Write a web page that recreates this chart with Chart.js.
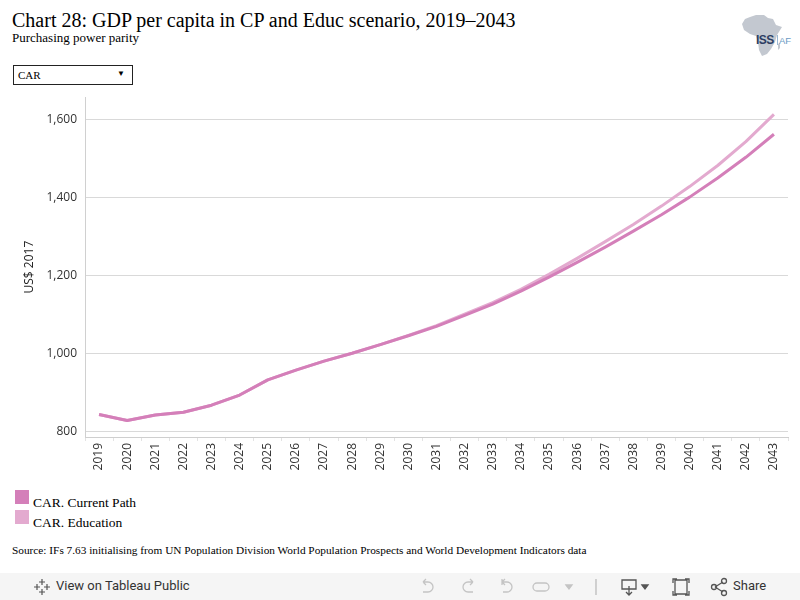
<!DOCTYPE html>
<html>
<head>
<meta charset="utf-8">
<script src="https://cdn.jsdelivr.net/npm/chart.js@4.4.0/dist/chart.umd.min.js"></script>
<style>
  body { margin: 0; width: 800px; height: 600px; background: #fff; position: relative; overflow: hidden; }
  .serif { font-family: "Liberation Serif", "Times New Roman", serif; color: #000; }
  #title { position: absolute; left: 12px; top: 9px; font-size: 20px; line-height: 22px; }
  #subtitle { position: absolute; left: 12px; top: 30px; font-size: 13px; line-height: 15px; }
  #dropdown { position: absolute; left: 13px; top: 65px; width: 118px; height: 18px; border: 1px solid #222; font-size: 11px; }
  #dropdown span { position: absolute; left: 4px; top: 3px; }
  #dropdown i { position: absolute; right: 7px; top: 3px; font-style: normal; font-size: 8px; }
  #wrap { position: absolute; left: 0; top: 82px; width: 800px; height: 395px; }
  #legend { position: absolute; left: 15px; top: 490px; }
  .lg { position: relative; height: 20px; font-size: 13.5px; }
  .lg b { position: absolute; left: 0; top: 0; width: 14px; height: 14px; }
  .lg span { position: absolute; left: 18px; top: 5px; white-space: nowrap; }
  #source { position: absolute; left: 12px; top: 544px; font-size: 11.3px; white-space: nowrap; }
  #bar { position: absolute; left: 0; top: 573px; width: 800px; height: 27px; background: #f5f5f5; font-family: Roboto, "Noto Sans", sans-serif; color: #333; font-size: 13px; }
  #bar .t { position: absolute; top: 5px; }
  #logo { position: absolute; left: 742px; top: 13px; }
</style>
</head>
<body>
<div id="title" class="serif">Chart 28: GDP per capita in CP and Educ scenario, 2019–2043</div>
<div id="subtitle" class="serif">Purchasing power parity</div>
<div id="dropdown" class="serif"><span>CAR</span><i>▼</i></div>

<svg id="logo" width="58" height="46" viewBox="0 0 58 46">
  <path d="M8 4 L14 2 L22 2 L26 5 L31 6 L34 12 L40 14 L35 22 L33 29 L29 36 L25 41 L20 43 L17 37 L16 29 L14 23 L8 21 L2 17 L0 11 L3 6 Z" fill="#c3c8d0"/>
  <path d="M36 31 L38 30 L38 35 L36 37 Z" fill="#c3c8d0"/>
  <text x="14" y="31" font-family="Liberation Sans, sans-serif" font-size="12" font-weight="bold" fill="#2d3e63" letter-spacing="-0.5">ISS</text>
  <line x1="35.5" y1="22" x2="35.5" y2="32" stroke="#7fa6c9" stroke-width="0.8"/>
  <text x="37" y="31" font-family="Liberation Sans, sans-serif" font-size="9.5" fill="#6b9ac4">AF</text>
</svg>

<div id="wrap"><canvas id="chart"></canvas></div>

<div id="legend" class="serif"></div>

<div id="source" class="serif">Source: IFs 7.63 initialising from UN Population Division World Population Prospects and World Development Indicators data</div>

<div id="bar">
  <svg style="position:absolute;left:33px;top:5px" width="18" height="18" viewBox="0 0 18 18" stroke="#555" stroke-width="1.2" fill="none">
    <path d="M9 1v6M6 4h6M9 11v6M6 14h6M1 9h6M4 6v6M11 9h6M14 6v6"/>
  </svg>
  <span class="t" style="left:56px">View on Tableau Public</span>
  <svg style="position:absolute;left:415px;top:4px" width="360" height="20" viewBox="0 0 360 20" stroke="#c4c4c4" stroke-width="1.3" fill="none">
    <path d="M8 5 h5 a5 5 0 0 1 0 10 h-5 M8 5 l3 -3 M8 5 l3 3"/>
    <path d="M58 5 h-5 a5 5 0 0 0 0 10 h5 M58 5 l-3 -3 M58 5 l-3 3"/>
    <path d="M87 2 v6 M87 5 h5 a5 5 0 0 1 0 10 h-4 M87 5 l3 -3 M87 5 l3 3"/>
    <path d="M122 6 h8 a4 4 0 0 1 0 8 h-8 a4 4 0 0 1 0 -8"/>
    <path d="M151 8 l3 4 l3 -4 Z" fill="#c4c4c4"/>
    <path d="M181 2 v16" stroke="#bbb"/>
    <path d="M207 3 h14 v9 h-14 Z M214 9 v9 M211 15 l3 3 l3 -3" stroke="#555"/>
    <path d="M227 8 l3 4 l3 -4 Z" fill="#555" stroke="#555"/>
    <path d="M260 3 h12 v14 h-12 Z M258 6 v-4 h4 M274 6 v-4 h-4 M258 14 v4 h4 M274 14 v4 h-4" stroke="#555"/>
    <path d="M300 10 l8 -5 M300 10 l8 5" stroke="#555"/>
    <circle cx="299" cy="10" r="2.5" stroke="#555"/>
    <circle cx="309" cy="4" r="2.5" stroke="#555"/>
    <circle cx="309" cy="16" r="2.5" stroke="#555"/>
  </svg>
  <span class="t" style="left:733px">Share</span>
</div>

<script>
// Datos
const years = ['2019','2020','2021','2022','2023','2024','2025','2026','2027','2028','2029','2030',
  '2031','2032','2033','2034','2035','2036','2037','2038','2039','2040','2041','2042','2043'];
const currentPath = [844, 829, 843, 850, 868, 894, 933, 958, 981, 1001, 1023, 1046,
  1070, 1098, 1127, 1160, 1196, 1234, 1273, 1314, 1356, 1401, 1450, 1503, 1562];
const education = [844, 829, 843, 850, 868, 894, 933, 958, 981, 1001, 1023, 1047,
  1072, 1101, 1131, 1165, 1203, 1244, 1287, 1331, 1378, 1428, 1482, 1543, 1613];
const yTicks = [800, 1000, 1200, 1400, 1600];
const seriesNames = ['CAR. Current Path', 'CAR. Education'];

// Colores
const color_cp = '#d47fb9';
const color_educ = '#e3aacf';
const grid_color = '#d9d9d9';
const tick_font = { family: '"Open Sans", "Noto Sans", sans-serif', size: 12 };

const graficoConfig = {
  type: 'line',
  data: {
    labels: years,
    datasets: [
      { label: seriesNames[0], data: currentPath, borderColor: color_cp, backgroundColor: color_cp,
        borderWidth: 3, pointRadius: 0, tension: 0, borderJoinStyle: 'round' },
      { label: seriesNames[1], data: education, borderColor: color_educ, backgroundColor: color_educ,
        borderWidth: 3, pointRadius: 0, tension: 0, borderJoinStyle: 'round' }
    ]
  },
  options: {
    responsive: true,
    maintainAspectRatio: false,
    animation: false,
    layout: { padding: { top: 0, right: 12, left: 0, bottom: 0 } },
    plugins: { legend: { display: false }, tooltip: { enabled: false } },
    scales: {
      x: {
        offset: true,
        grid: { offset: true, drawOnChartArea: false, drawTicks: true, tickLength: 4, color: '#e3e3e3' },
        border: { color: '#cfcfcf' },
        ticks: { maxRotation: 90, minRotation: 90, autoSkip: false, padding: 2, color: '#333', font: tick_font },
        afterFit: (scale) => { scale.height = 40; }
      },
      y: {
        min: 786.5,
        max: 1657,
        grid: { color: grid_color, drawTicks: false },
        border: { color: '#d0d0d0' },
        ticks: { padding: 8, color: '#333', font: tick_font,
          callback: (v) => v.toLocaleString('en-US') },
        afterBuildTicks: (scale) => { scale.ticks = yTicks.map(v => ({ value: v })); },
        title: { display: true, text: 'US$ 2017', color: '#222', font: tick_font, padding: { top: 22, bottom: 0 } },
        afterFit: (scale) => { scale.width = 85; }
      }
    }
  }
};

new Chart(document.getElementById('chart'), graficoConfig);

// Leyenda en HTML
const legend = document.getElementById('legend');
[color_cp, color_educ].forEach((c, i) => {
  const row = document.createElement('div');
  row.className = 'lg';
  row.innerHTML = `<b style="background:${c}"></b><span>${seriesNames[i]}</span>`;
  legend.appendChild(row);
});
</script>
</body>
</html>
